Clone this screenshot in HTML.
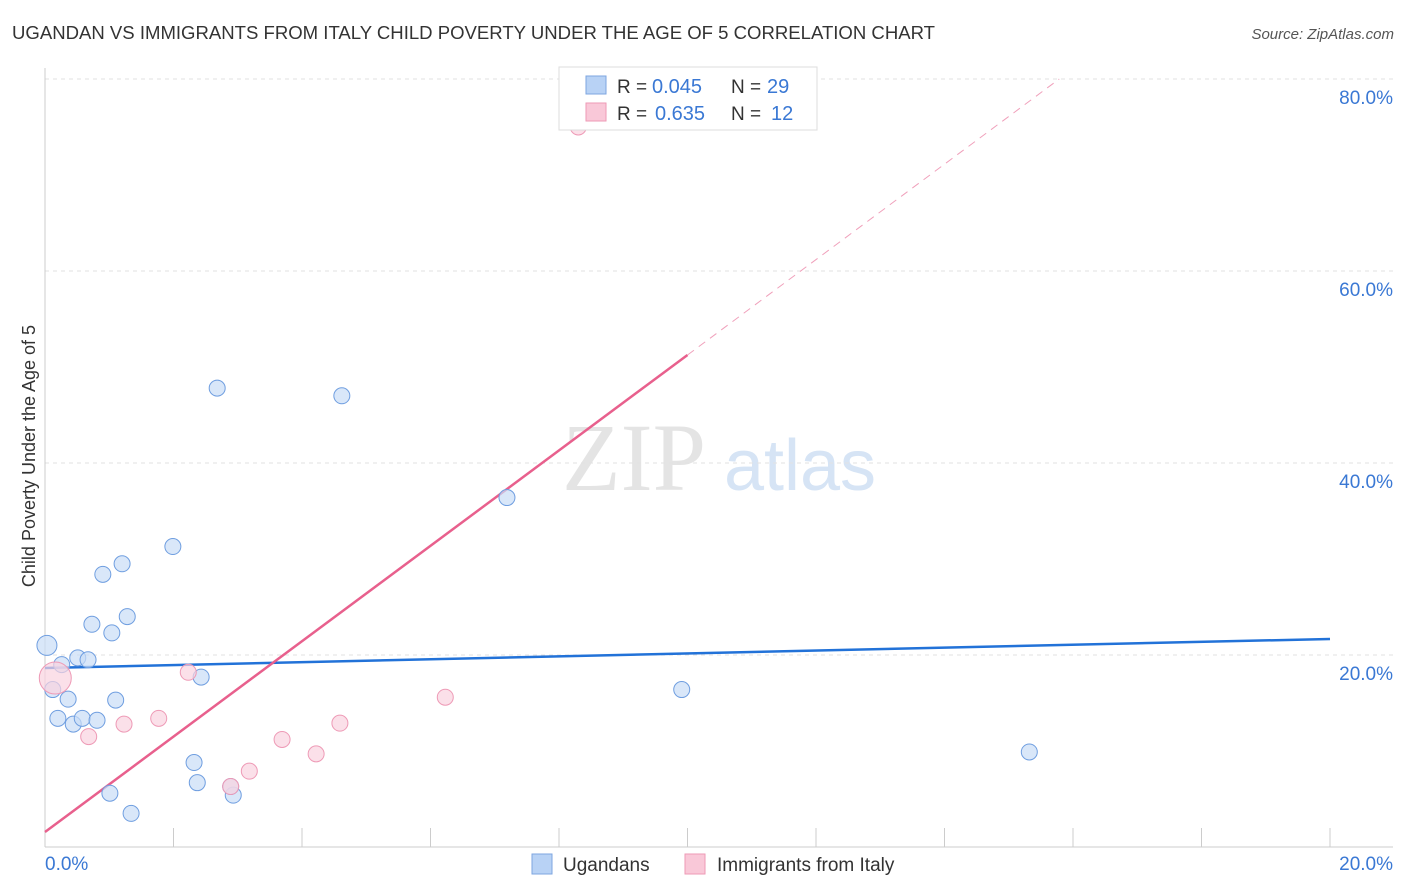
<!DOCTYPE html>
<html><head><meta charset="utf-8"><style>
body{margin:0;background:#fff;font-family:"Liberation Sans",sans-serif;}
svg{display:block}
</style></head><body>
<svg width="1406" height="892" xmlns="http://www.w3.org/2000/svg" id="chart">
<text x="12" y="39" font-size="18" fill="#333" textLength="923" lengthAdjust="spacingAndGlyphs">UGANDAN VS IMMIGRANTS FROM ITALY CHILD POVERTY UNDER THE AGE OF 5 CORRELATION CHART</text>
<text x="1394" y="39" font-size="15" fill="#555" font-style="italic" text-anchor="end">Source: ZipAtlas.com</text>
<g>
<text x="634" y="490" font-size="96" fill="#e4e4e4" text-anchor="middle" font-family="Liberation Serif,serif">ZIP</text>
<text x="800" y="490" font-size="72" fill="#d6e4f5" text-anchor="middle">atlas</text>
</g>
<g id="grid"></g>
<g id="axes"></g>
<g id="lines"></g>
<g id="points"></g>
<text x="35" y="456" font-size="18" fill="#333" text-anchor="middle" transform="rotate(-90 35 456)">Child Poverty Under the Age of 5</text>
<g>
<rect x="559" y="67" width="258" height="63" fill="#fff" stroke="#ddd"/>
<rect x="586" y="76" width="20" height="18" fill="#b8d2f5" stroke="#7ea6e0"/>
<text x="617" y="93" font-size="19" fill="#333">R =</text>
<text x="652" y="93" font-size="20" fill="#3a78d4">0.045</text>
<text x="731" y="93" font-size="19" fill="#333">N =</text>
<text x="767" y="93" font-size="20" fill="#3a78d4">29</text>
<rect x="586" y="103" width="20" height="18" fill="#f9c8d8" stroke="#ee9ab6"/>
<text x="617" y="120" font-size="19" fill="#333">R =</text>
<text x="655" y="120" font-size="20" fill="#3a78d4">0.635</text>
<text x="731" y="120" font-size="19" fill="#333">N =</text>
<text x="771" y="120" font-size="20" fill="#3a78d4">12</text>
</g>
<g>
<rect x="532" y="854" width="20" height="20" fill="#b8d2f5" stroke="#7ea6e0"/>
<text x="563" y="871" font-size="19" fill="#333">Ugandans</text>
<rect x="685" y="854" width="20" height="20" fill="#f9c8d8" stroke="#ee9ab6"/>
<text x="717" y="871" font-size="19" fill="#333">Immigrants from Italy</text>
</g>
</svg>
<script>
const blueX=[0.03,0.26,0.12,0.36,0.20,0.44,0.58,0.81,0.51,0.67,0.73,0.90,1.04,1.20,1.28,1.10,1.99,2.43,2.68,2.32,2.37,2.93,2.89,1.01,1.34,4.62,7.19,9.91,15.32];
const blueY=[21.0,19.0,16.4,15.4,13.4,12.8,13.4,13.2,19.7,19.5,23.2,28.4,22.3,29.5,24.0,15.3,31.3,17.7,47.8,8.8,6.7,5.4,6.3,5.6,3.5,47.0,36.4,16.4,9.9];
const pinkX=[0.16,0.68,1.23,1.77,2.23,3.18,3.69,4.22,4.59,6.23,8.30,2.89];
const pinkY=[17.6,11.5,12.8,13.4,18.2,7.9,11.2,9.7,12.9,15.6,75.0,6.3];
const blueLine=[18.65,21.67];
const pinkLine=[1.56,51.25];
const yTicks=[20,40,60,80];
const xTickLabels=["0.0%","20.0%"];
const NS="http://www.w3.org/2000/svg";
const sx=v=>45+v/20*1285, sy=v=>847-v*9.6;
function mk(parent,tag,attrs){const e=document.createElementNS(NS,tag);for(const k in attrs)e.setAttribute(k,attrs[k]);document.getElementById(parent).appendChild(e);return e;}
yTicks.forEach(t=>{
 const g=mk('grid','line',{x1:45,x2:1393,y1:sy(t),y2:sy(t),stroke:'#e2e2e2','stroke-dasharray':'4,4'});
 
 
 const l=mk('axes','text',{x:1393,y:sy(t)+25,'font-size':19,fill:'#3a78d4','text-anchor':'end'});
 l.textContent=t.toFixed(1)+'%';
 
 
});
let a=mk('axes','line',{x1:45,x2:45,y1:68,y2:847,stroke:'#ccc'});


a=mk('axes','line',{x1:45,x2:1393,y1:847,y2:847,stroke:'#ccc'});


for(let i=0;i<=20;i+=2){
 const t=mk('axes','line',{x1:sx(i),x2:sx(i),y1:828,y2:847,stroke:'#ccc'});
 
 
}
[[0,'start',45],[1,'end',1393]].forEach(([i,anc,x])=>{
 const l=mk('axes','text',{x:x,y:870,'font-size':19,fill:'#3a78d4','text-anchor':anc});
 l.textContent=xTickLabels[i];
 
 
});
let ln=mk('lines','line',{x1:sx(0),y1:sy(blueLine[0]),x2:sx(20),y2:sy(blueLine[1]),stroke:'#2272d8','stroke-width':2.5});


const slope=(pinkLine[1]-pinkLine[0])/10;
ln=mk('lines','line',{x1:sx(0),y1:sy(pinkLine[0]),x2:sx(10),y2:sy(pinkLine[1]),stroke:'#e8608d','stroke-width':2.5});


const xe=(80-pinkLine[0])/slope;
ln=mk('lines','line',{x1:sx(10),y1:sy(pinkLine[1]),x2:sx(xe),y2:sy(80),stroke:'#f0a0bb','stroke-width':1,'stroke-dasharray':'8,6'});


blueX.forEach((x,i)=>{
 const c=mk('points','circle',{cx:sx(x),cy:sy(blueY[i]),r:i==0?10:8,fill:'#c9ddf7','fill-opacity':0.7,stroke:'#6f9ee0','stroke-width':1});
 
 
});
pinkX.forEach((x,i)=>{
 const c=mk('points','circle',{cx:sx(x),cy:sy(pinkY[i]),r:i==0?16:8,fill:'#fad3e0','fill-opacity':0.7,stroke:'#ee9ab6','stroke-width':1});
 
 
});
</script>
</body></html>
